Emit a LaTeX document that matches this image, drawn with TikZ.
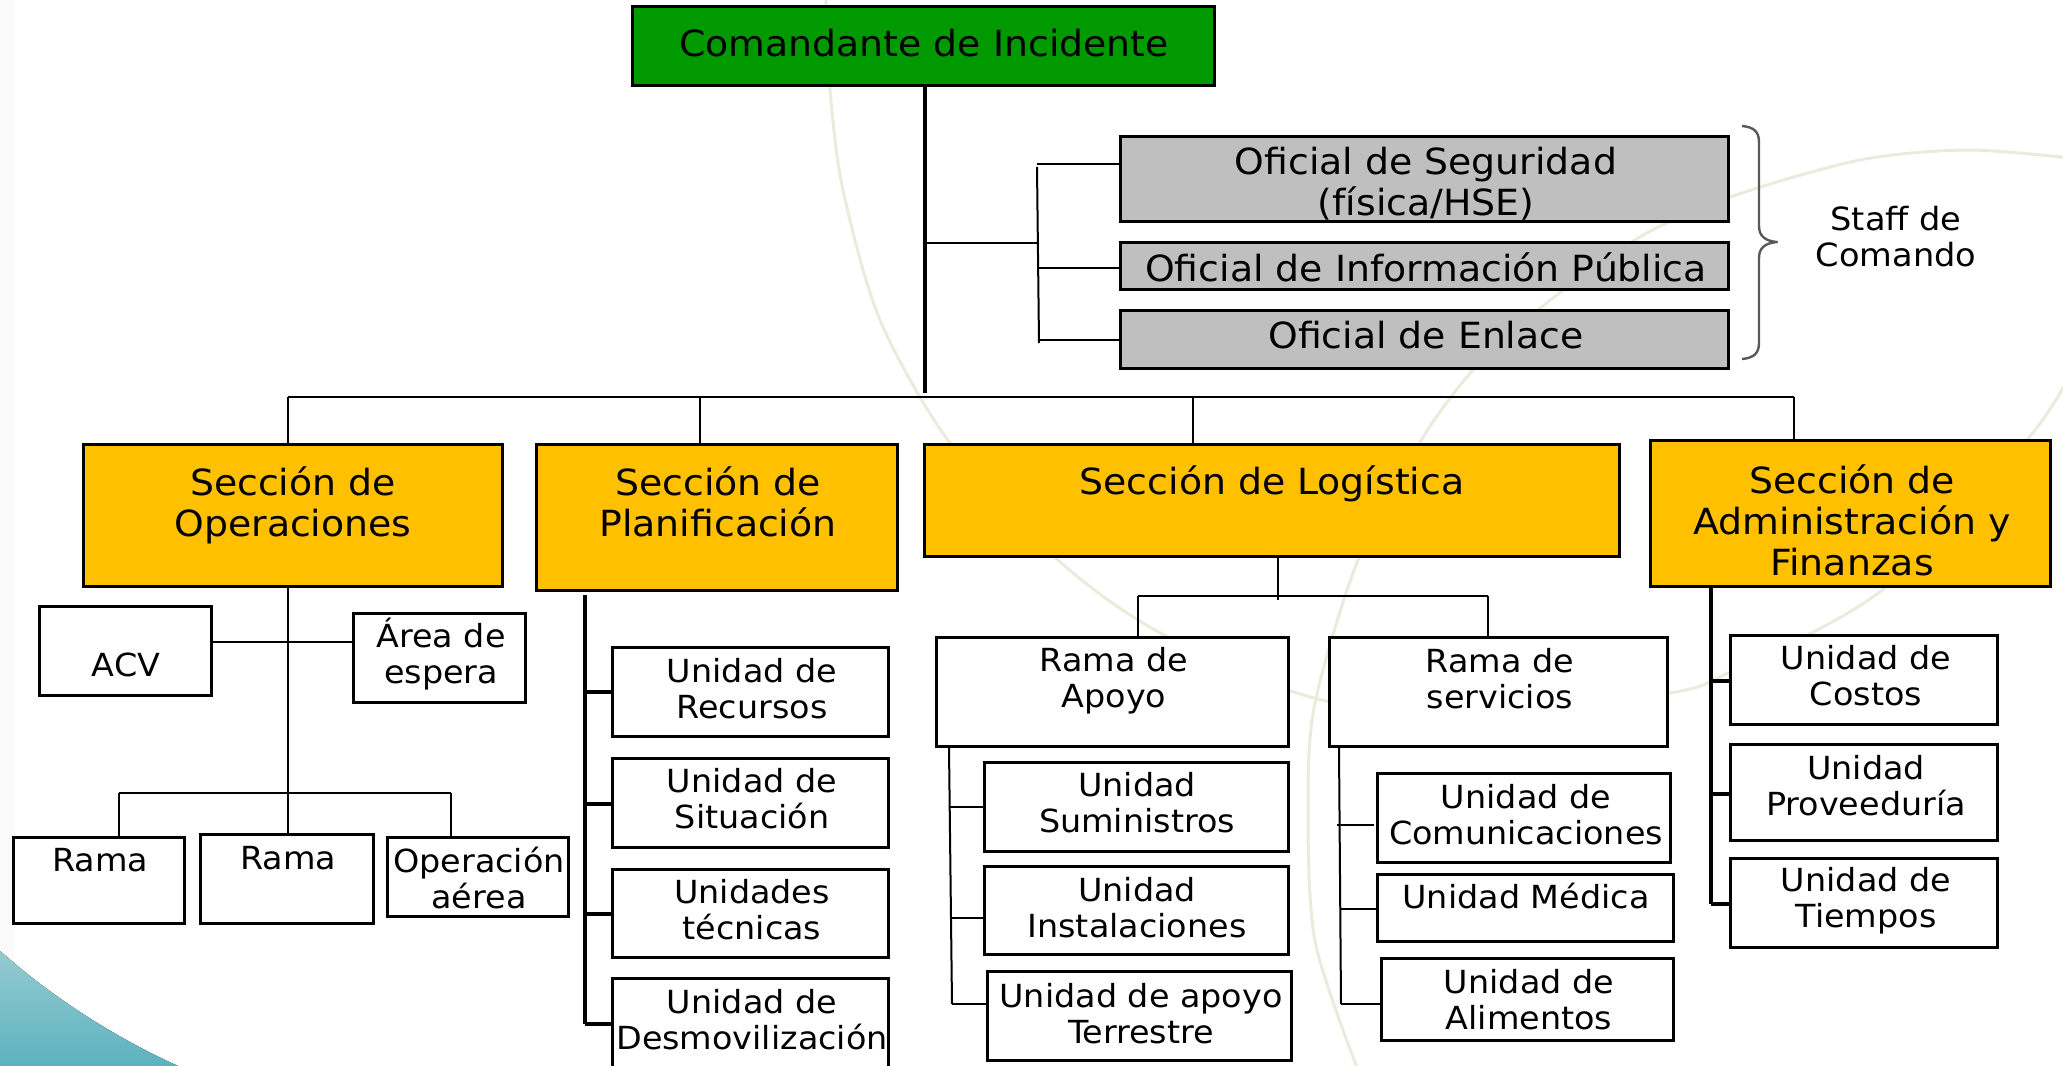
\documentclass[tikz,border=0pt]{standalone}
\usepackage{fontspec}
\setmainfont[FakeStretch=1.05]{DejaVu Sans}
\definecolor{cmdgreen}{HTML}{009900}
\definecolor{secyellow}{HTML}{FFC000}
\definecolor{offgray}{HTML}{BFBFBF}
\definecolor{arcline}{HTML}{E9ECDD}
\definecolor{tealA}{HTML}{95CBD0}
\definecolor{tealB}{HTML}{5DB2BF}
\tikzset{
  basebox/.style={rectangle,draw=black,inner sep=0pt,outer sep=0pt,line width=1.5pt},
  cmd/.style={basebox,fill=cmdgreen},
  off/.style={basebox,fill=offgray},
  sec/.style={basebox,fill=secyellow},
  unit/.style={basebox,fill=white},
  big text/.style={inner sep=0pt,align=center,font=\fontsize{18pt}{20.5pt}\selectfont},
  cmd text/.style={big text},
  off text/.style={big text},
  sec text/.style={big text},
  unit text/.style={inner sep=0pt,align=center,font=\fontsize{15.9pt}{18pt}\selectfont},
  thin link/.style={draw=black,line width=1pt},
  bold link/.style={draw=black,line width=1.6pt},
  arc/.style={draw=arcline,line width=1.5pt}
}
\newcommand{\bx}[9]{%
  \pgfmathsetmacro{\bxcx}{(#3+#5)/2-0.7}%
  \pgfmathsetmacro{\bxcy}{(#4+#6)/2-0.7}%
  \pgfmathsetmacro{\bxw}{(#5-#3)*0.5-0.5}%
  \pgfmathsetmacro{\bxh}{(#6-#4)*0.5-0.5}%
  \node[#1,minimum width=\bxw pt,minimum height=\bxh pt] (#2) at (\bxcx,\bxcy) {};
  \node[#1 text] (#2t) at (#7,#8) {#9};
}
\begin{document}
\begin{tikzpicture}[x=0.5pt,y=-0.5pt]
\useasboundingbox (0,0) rectangle (2063,1066);
\clip (0,0) rectangle (2063,1066);
% background
\fill[white!98.5!black] (0,0) rectangle (14,1066);
\fill[top color=tealA,bottom color=tealB] (0,951) .. controls (50,995) and (110,1035) .. (178,1066) -- (0,1066) -- cycle;
\draw[arc] plot[smooth] coordinates {(826,0) (830,90) (843,190) (880,320) (950,443) (1058,560) (1164,635) (1322,700) (1500,712) (1670,693) (1730,672) (1881,591) (2026,441) (2070,375)};
\draw[arc] plot[smooth] coordinates {(2070,158) (1967,150) (1860,160) (1730,197) (1638,238) (1539,309) (1473,370) (1420,442) (1358,560) (1315,703) (1308,805) (1315,941) (1358,1070)};
% boxes
\bx{cmd}{cmd}{633}{7}{1216}{87}{924}{43}{Comandante de Incidente}
\bx{off}{seg}{1121}{137}{1730}{223}{1426}{184}{Oficial de Seguridad\\(física/HSE)}
\bx{off}{inf}{1121}{243}{1730}{291}{1426}{267}{Oficial de Información Pública}
\bx{off}{enl}{1121}{311}{1730}{370}{1426}{335}{Oficial de Enlace}
\bx{sec}{ops}{84}{445}{504}{588}{293}{505}{Sección de\\Operaciones}
\bx{sec}{pla}{537}{445}{899}{592}{718}{502}{Sección de\\Planificación}
\bx{sec}{log}{925}{445}{1621}{558}{1272}{484}{Sección de Logística}
\bx{sec}{adm}{1651}{441}{2052}{588}{1852}{520}{Sección de\\Administración y\\Finanzas}
\bx{unit}{acv}{40}{607}{213}{697}{126}{665}{ACV}
\bx{unit}{are}{354}{614}{527}{704}{441}{654}{Área de\\espera}
\bx{unit}{ra1}{14}{838}{186}{925}{100}{860}{Rama}
\bx{unit}{ra2}{201}{835}{375}{925}{288}{858}{Rama}
\bx{unit}{aer}{388}{838}{570}{918}{479}{878}{Operación\\aérea}
\bx{unit}{rec}{613}{648}{890}{738}{752}{689}{Unidad de\\Recursos}
\bx{unit}{sit}{613}{759}{890}{849}{752}{799}{Unidad de\\Situación}
\bx{unit}{tec}{613}{870}{890}{959}{752}{910}{Unidades\\técnicas}
\bx{unit}{des}{613}{979}{890}{1075}{752}{1020}{Unidad de\\Desmovilización}
\bx{unit}{rap}{937}{638}{1290}{748}{1114}{681}{Rama de\\Apoyo}
\bx{unit}{rse}{1330}{638}{1669}{748}{1500}{679}{Rama de\\servicios}
\bx{unit}{sum}{985}{763}{1290}{853}{1137}{803}{Unidad\\Suministros}
\bx{unit}{ins}{985}{867}{1290}{956}{1137}{908}{Unidad\\Instalaciones}
\bx{unit}{ter}{988}{972}{1293}{1062}{1141}{1014}{Unidad de apoyo\\Terrestre}
\bx{unit}{com}{1378}{774}{1672}{864}{1526}{815}{Unidad de\\Comunicaciones}
\bx{unit}{med}{1378}{875}{1675}{943}{1526}{896}{Unidad Médica}
\bx{unit}{ali}{1382}{959}{1675}{1042}{1529}{1000}{Unidad de\\Alimentos}
\bx{unit}{cos}{1731}{636}{1999}{726}{1866}{676}{Unidad de\\Costos}
\bx{unit}{pro}{1731}{745}{1999}{842}{1866}{786}{Unidad\\Proveeduría}
\bx{unit}{tie}{1731}{859}{1999}{949}{1866}{901}{Unidad de\\Tiempos}
% staff label and brace
\node[inner sep=0pt,align=center,font=\fontsize{16pt}{18pt}\selectfont] (staff) at (1896,237) {Staff de\\Comando};
\draw[draw=black!65,line width=1.2pt,line join=round] (1742,126) .. controls (1754,127) and (1759,132) .. (1759,142) -- (1759,226) .. controls (1759,236) and (1765,241) .. (1777,242) .. controls (1765,243) and (1759,248) .. (1759,258) -- (1759,343) .. controls (1759,353) and (1754,358) .. (1742,359);
% command trunk
\coordinate (trunkend) at (925,393);
\coordinate (trunktop) at (925,87);
\draw[bold link] (trunktop) -- (trunkend);
\coordinate (stafftap) at (925,243);
\coordinate (stafftop) at (1037,167);
\coordinate (staffmid) at (1037,243);
\coordinate (staffbot) at (1039,343);
\draw[thin link] (stafftap) -- (staffmid);
\draw[thin link] (stafftop) -- (staffbot);
\coordinate (ls1) at (1037,164);
\coordinate (ls2) at (1038,268);
\coordinate (ls3) at (1039,340);
\draw[thin link] (ls1) -- (ls1 -| seg.west);
\draw[thin link] (ls2) -- (ls2 -| inf.west);
\draw[thin link] (ls3) -- (ls3 -| enl.west);
% section bus
\coordinate (busl) at (288,397);
\coordinate (busr) at (1794,397);
\coordinate (bus2) at (700,397);
\coordinate (bus3) at (1193,397);
\draw[thin link] (busl) -- (busr);
\draw[thin link] (busl) -- (busl |- ops.north);
\draw[thin link] (bus2) -- (bus2 |- pla.north);
\draw[thin link] (bus3) -- (bus3 |- log.north);
\draw[thin link] (busr) -- (busr |- adm.north);
% operations
\coordinate (opt) at (288,588);
\draw[thin link] (opt) -- (opt |- ra2.north);
\coordinate (oph) at (288,642);
\draw[thin link] (oph -| acv.east) -- (oph -| are.west);
\coordinate (opl) at (119,793);
\coordinate (opr) at (451,793);
\draw[thin link] (opl) -- (opr);
\draw[thin link] (opl) -- (opl |- ra1.north);
\draw[thin link] (opr) -- (opr |- aer.north);
% planning
\coordinate (plt) at (585,595);
\coordinate (plb) at (585,1024);
\draw[bold link] (plt) -- (plb);
\coordinate (pl1) at (585,692);
\coordinate (pl2) at (585,804);
\coordinate (pl3) at (585,914);
\draw[bold link] (pl1) -- (pl1 -| rec.west);
\draw[bold link] (pl2) -- (pl2 -| sit.west);
\draw[bold link] (pl3) -- (pl3 -| tec.west);
\draw[bold link] (plb) -- (plb -| des.west);
% logistics
\coordinate (lgt) at (1278,558);
\coordinate (lgb) at (1278,600);
\draw[thin link] (lgt) -- (lgb);
\coordinate (lgl) at (1138,596);
\coordinate (lgr) at (1488,596);
\draw[thin link] (lgl) -- (lgr);
\draw[thin link] (lgl) -- (lgl |- rap.north);
\draw[thin link] (lgr) -- (lgr |- rse.north);
\coordinate (apt) at (949,748);
\coordinate (apb) at (952,1004);
\draw[thin link] (apt) -- (apb);
\coordinate (ap1) at (950,807);
\coordinate (ap2) at (951,918);
\draw[thin link] (ap1) -- (ap1 -| sum.west);
\draw[thin link] (ap2) -- (ap2 -| ins.west);
\draw[thin link] (apb) -- (apb -| ter.west);
\coordinate (set) at (1339,748);
\coordinate (seb) at (1341,1004);
\draw[thin link] (set) -- (seb);
\coordinate (se1) at (1337,825);
\coordinate (se1e) at (1374,825);
\coordinate (se2) at (1340,909);
\draw[thin link] (se1) -- (se1e);
\draw[thin link] (se2) -- (se2 -| med.west);
\draw[thin link] (seb) -- (seb -| ali.west);
% administration
\coordinate (adt) at (1711,588);
\coordinate (adb) at (1711,904);
\draw[bold link] (adt) -- (adb);
\coordinate (ad1) at (1711,681);
\coordinate (ad2) at (1711,794);
\draw[bold link] (ad1) -- (ad1 -| cos.west);
\draw[bold link] (ad2) -- (ad2 -| pro.west);
\draw[bold link] (adb) -- (adb -| tie.west);
\end{tikzpicture}
\end{document}
